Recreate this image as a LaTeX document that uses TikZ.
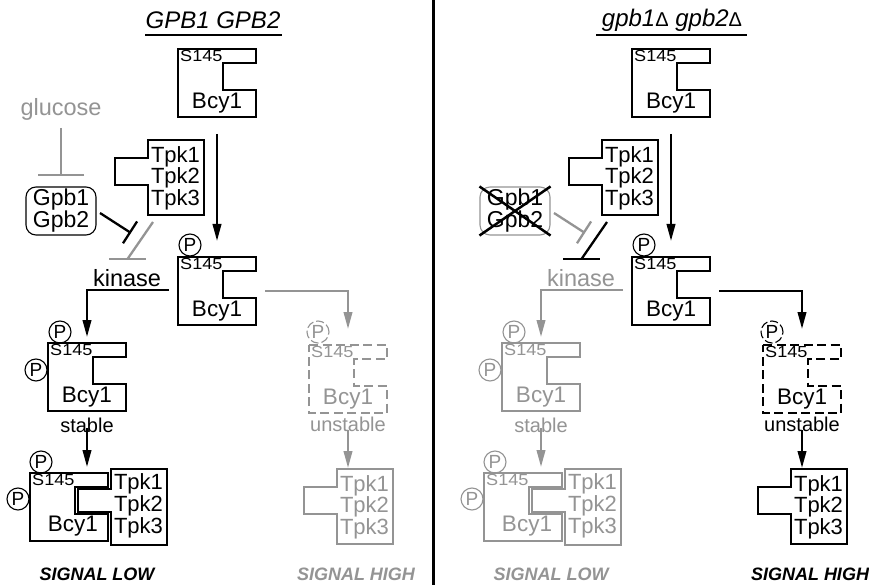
\documentclass[tikz,border=0pt]{standalone}
\usepackage{fontspec}
\usepackage{graphicx}
\setmainfont{Liberation Sans}
\usetikzlibrary{arrows.meta}
\definecolor{lgray}{gray}{0.58}
\tikzset{
  shp/.style={line width=1.3pt, line join=miter},
  bfont/.style={font=\fontsize{22.5}{22}\selectfont, inner sep=0pt},
  tfont/.style={font=\fontsize{22}{22}\selectfont, inner sep=0pt},
  sfont/.style={font=\fontsize{16}{16}\selectfont, inner sep=0pt},
  lfont/.style={font=\fontsize{23.5}{23}\selectfont, inner sep=0pt},
  stfont/.style={font=\fontsize{20}{20}\selectfont, inner sep=0pt},
  sigfont/.style={font=\fontsize{18}{18}\selectfont\bfseries\itshape, inner sep=0pt},
  ttlfont/.style={font=\fontsize{24}{24}\selectfont\itshape, inner sep=0pt},
  pcirc/.style={circle, draw, line width=1.1pt, inner sep=0pt, minimum size=22pt, font=\fontsize{19}{19}\selectfont},
  arr/.style={line width=2.3pt, -{Triangle[length=17pt,width=8.5pt]}},
  inh/.style={line width=2.3pt},
  gpbbox/.style={draw, line width=1.1pt, rounded corners=10pt, minimum width=70pt, minimum height=48pt, align=center, inner sep=0pt, font=\fontsize{23}{22}\selectfont},
  dashpat/.style={dash pattern=on 9pt off 4.5pt},
}
\newcommand\SiteText{\scalebox{1.13}[1]{S145}}
% Bcy1 shape: #1 name, #2 top-left, #3 colour, #4 extra path options
\newcommand\BcyShape[4]{%
\begin{scope}[shift={#2}]
\draw[shp,draw=#3,#4] (0,0) -- (78,0) -- (78,14) -- (45,14) -- (45,41) -- (78,41) -- (78,68) -- (0,68) -- cycle;
\node[sfont,text=#3,anchor=north west] (#1-site) at (2,1.5) {\SiteText};
\node[bfont,text=#3] (#1-name) at (39,54) {Bcy1};
\coordinate (#1-n) at (39,-6);
\coordinate (#1-nn) at (39,-16);
\coordinate (#1-s) at (39,85);
\coordinate (#1-w) at (-9,33);
\coordinate (#1-e) at (87,34);
\end{scope}}
% Tpk shape: #1 name, #2 top-left of box, #3 colour
\newcommand\TpkShape[3]{%
\begin{scope}[shift={#2}]
\draw[shp,draw=#3] (0,0) -- (56,0) -- (56,75) -- (0,75) -- (0,45) -- (-33,45) -- (-33,18) -- (0,18) -- cycle;
\node[tfont,text=#3] (#1-t1) at (27.5,16.5) {Tpk1};
\node[tfont,text=#3] (#1-t2) at (27.5,38) {Tpk2};
\node[tfont,text=#3] (#1-t3) at (27.5,59.5) {Tpk3};
\coordinate (#1-n) at (11,-1);
\coordinate (#1-k) at (5,82);
\end{scope}}
% complex: #1 name, #2 top-left of Bcy1, #3 colour
\newcommand\CplxShape[3]{%
\begin{scope}[shift={#2}]
\draw[shp,draw=#3] (0,0) -- (78,0) -- (78,14) -- (45,14) -- (45,41) -- (78,41) -- (78,68) -- (0,68) -- cycle;
\draw[shp,draw=#3] (81,-4) -- (137,-4) -- (137,72) -- (81,72) -- (81,39) -- (48,39) -- (48,16) -- (81,16) -- cycle;
\node[sfont,text=#3,anchor=north west] (#1-site) at (2,1.5) {\SiteText};
\node[bfont,text=#3] (#1-name) at (43,53) {Bcy1};
\node[tfont,text=#3] (#1-t1) at (108.5,10.5) {Tpk1};
\node[tfont,text=#3] (#1-t2) at (108.5,32.5) {Tpk2};
\node[tfont,text=#3] (#1-t3) at (108.5,54.5) {Tpk3};
\node[pcirc,draw=#3,text=#3] (#1-p1) at (11,-11) {P};
\node[pcirc,draw=#3,text=#3] (#1-p2) at (-12,26) {P};
\coordinate (#1-n) at (57,-6);
\end{scope}}
% one panel: #1 prefix, #2 colour of the left branch, #3 colour of the right branch
\newcommand\PanelBody[3]{%
\BcyShape{#1top}{(178,49)}{black}{}
\TpkShape{#1tpk}{(148,140)}{black}
\node[gpbbox,draw=#2] (#1gpb) at (61,211) {Gpb1\\Gpb2};
\BcyShape{#1mid}{(178,257)}{black}{}
\node[pcirc] (#1midP) at (190,245) {P};
\node[lfont,text=#2] (#1kin) at (127,278) {kinase};
\BcyShape{#1ll}{(48,343)}{#2}{}
\node[pcirc,draw=#2,text=#2] (#1llP1) at (60,332) {P};
\node[pcirc,draw=#2,text=#2] (#1llP2) at (36,370) {P};
\node[stfont,text=#2] (#1stab) at (87,425) {stable};
\CplxShape{#1cx}{(30,473)}{#2}
\BcyShape{#1dr}{(309,345)}{#3}{dashpat}
\node[pcirc,draw=#3,text=#3,dash pattern=on 8pt off 3pt] (#1drP) at (318,332) {P};
\node[stfont,text=#3] (#1unst) at (348,424) {unstable};
\TpkShape{#1tr}{(337,469)}{#3}
\node[sigfont,text=#2] (#1sigL) at (97,574) {SIGNAL LOW};
\node[sigfont,text=#3] (#1sigH) at (356,574) {SIGNAL HIGH};
% connectors
\draw[arr] (#1top-s) -- (#1mid-nn);
\draw[arr,draw=#2] (#1mid-w) -| (#1ll-n);
\draw[arr,draw=#3] (#1mid-e) -| (#1dr-nn);
\draw[arr,draw=#2] (#1ll-s) -- (#1cx-n);
\draw[arr,draw=#3] (#1dr-s) -- (#1tr-n);
% inhibitions
\coordinate (#1inhS) at (100,213);
\coordinate (#1inhE) at (131,233);
\draw[inh,draw=#2,-{Bar[width=26pt]}] (#1inhS) -- (#1inhE);
\coordinate (#1kbar) at (127.5,259);
\coordinate (#1kbarL) at (109,259);
\coordinate (#1kbarR) at (146,259);
\draw[inh,draw=#3] (#1tpk-k) -- (#1kbar);
\draw[inh,draw=#3] (#1kbarL) -- (#1kbarR);
}
\begin{document}
\begin{tikzpicture}[x=1pt,y=-1pt]
\useasboundingbox (0,0) rectangle (869,585);
\fill[white] (0,0) rectangle (869,585);
% divider
\coordinate (dvT) at (433,0);
\coordinate (dvB) at (433,585);
\draw[line width=3pt] (dvT) -- (dvB);
% left panel
\node[ttlfont] (Lttl) at (213,20) {GPB1 GPB2};
\coordinate (LulA) at (145,35);
\coordinate (LulB) at (282,35);
\draw[line width=1.3pt] (LulA) -- (LulB);
\node[lfont,text=lgray] (glu) at (61,109) {glucose};
\coordinate (gluS) at (61,128);
\coordinate (gluE) at (61,176);
\draw[inh,draw=lgray,-{Bar[width=46pt]}] (gluS) -- (gluE);
\PanelBody{L}{black}{lgray}
% right panel
\begin{scope}[xshift=454pt]
\node[ttlfont] (Rttl) at (218,20) {gpb1{\upshape\fontsize{20}{20}\selectfont Δ} gpb2{\upshape\fontsize{20}{20}\selectfont Δ}};
\coordinate (RulA) at (142,35);
\coordinate (RulB) at (293,35);
\draw[line width=1.3pt] (RulA) -- (RulB);
\PanelBody{R}{lgray}{black}
\draw[line width=2.5pt] (Rgpb.north west) -- (Rgpb.south east);
\draw[line width=2.5pt] (Rgpb.north east) -- (Rgpb.south west);
\end{scope}
\end{tikzpicture}
\end{document}
